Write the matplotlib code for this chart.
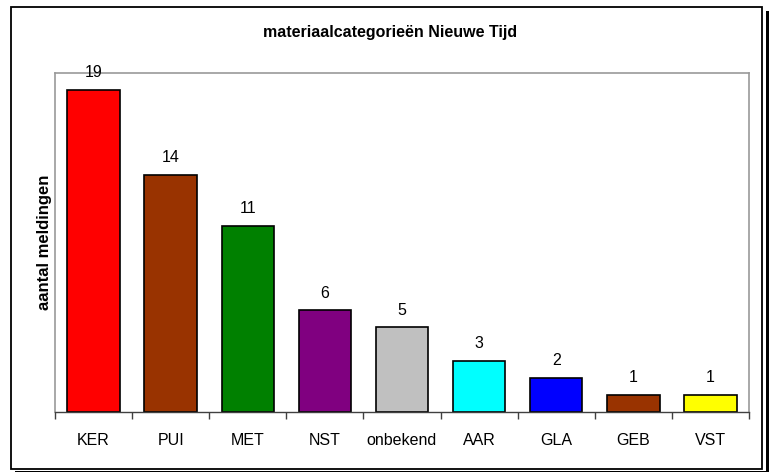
import matplotlib.pyplot as plt
from matplotlib.patches import Rectangle

categories = ["KER", "PUI", "MET", "NST", "onbekend", "AAR", "GLA", "GEB", "VST"]
counts = [19, 14, 11, 6, 5, 3, 2, 1, 1]
colors = ["#FF0000", "#993300", "#008000", "#800080", "#C0C0C0",
          "#00FFFF", "#0000FF", "#993300", "#FFFF00"]

plt.rcParams['font.family'] = ['Liberation Sans', 'DejaVu Sans']

W, H = 769, 472
fig = plt.figure(figsize=(W / 100, H / 100), dpi=100)


def px_rect(x0, y0, x1, y1, **kw):
    # rectangle given in pixel coords (origin top-left)
    return Rectangle((x0 / W, 1 - y1 / H), (x1 - x0) / W, (y1 - y0) / H,
                     transform=fig.transFigure, **kw)


# outer frame with shadow
fig.patches.append(px_rect(15, 11, 769, 472, facecolor="black", edgecolor="none", zorder=0))
fig.patches.append(px_rect(10, 6, 766, 470.5, facecolor="white", edgecolor="none", zorder=1))
fig.patches.append(px_rect(10.5, 6.5, 762, 469, facecolor="none", edgecolor="black",
                           linewidth=1.3, zorder=1))

ax = fig.add_axes([55 / W, 1 - 412 / H, 694 / W, 339 / H])
ax.set_zorder(2)
x = range(len(categories))
ax.bar(x, counts, width=0.68, color=colors, edgecolor="black", linewidth=1.2)
for xi, c in zip(x, counts):
    ax.annotate(str(c), (xi, c), xytext=(0, 7), textcoords="offset points",
                ha="center", va="bottom", fontsize=11.5)

ax.set_xlim(-0.5, len(categories) - 0.5)
ax.set_ylim(0, 20)
ax.set_yticks([])
ax.set_xticks([i + 0.5 for i in range(-1, len(categories))], minor=False)
ax.set_xticklabels([])
ax.set_xticks(list(x), minor=True)
ax.set_xticklabels(categories, minor=True, fontsize=11.5)
ax.tick_params(axis="x", which="major", length=5, color="#404040", width=1)
ax.tick_params(axis="x", which="minor", length=0, pad=15)
for side in ["left", "top", "right"]:
    ax.spines[side].set_color("#999999")
    ax.spines[side].set_linewidth(1.2)
ax.spines["bottom"].set_color("#404040")
ax.spines["bottom"].set_linewidth(1)

ax.set_ylabel("aantal meldingen", fontsize=12, fontweight="bold", labelpad=2)
fig.text(390 / W, 1 - 32 / H, "materiaalcategorieën Nieuwe Tijd", ha="center", va="center",
         fontsize=11.5, fontweight="bold")

fig.savefig("out.png", dpi=100)
